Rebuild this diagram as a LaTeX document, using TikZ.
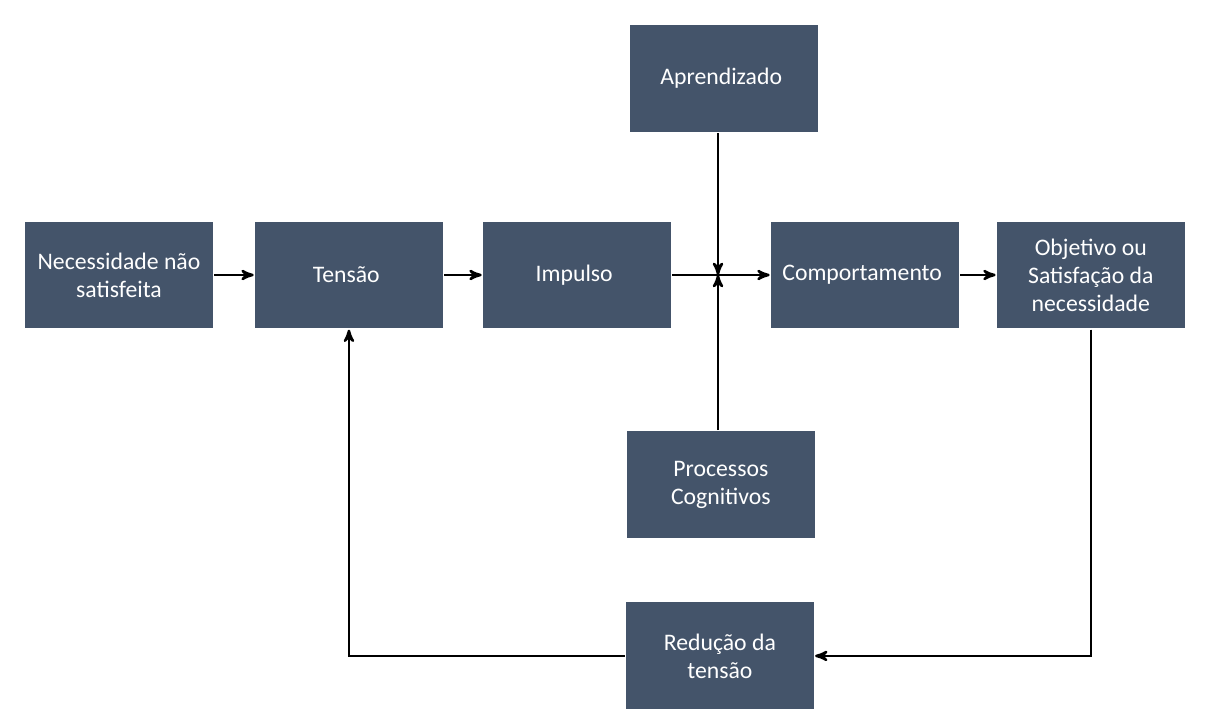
\documentclass[tikz,border=0pt]{standalone}
\usepackage{fontspec}
\setmainfont{Carlito}
\usepackage{tikz}
\usetikzlibrary{arrows}
\usetikzlibrary{positioning}

\definecolor{boxblue}{HTML}{44546A}

\begin{document}
\begin{tikzpicture}[->,>=stealth', x=0.02cm, y=-0.02cm,
    block/.style={rectangle, fill=boxblue, text=white, align=center,
      minimum width=3.76cm, minimum height=2.14cm, inner sep=2pt,
      font=\fontsize{13.5}{16}\selectfont},
    every path/.style={line width=1.4pt}]
    \useasboundingbox (0,0) rectangle (1207,722);

    % MAIN ROW
    \node[block] (NEED) at (119,275)
    {
      Necessidade não\\ satisfeita
    };

    \node[block,
      node distance=4.6cm,
      right of=NEED] (TENSION)
    {
      Tensão
    };

    \node[block,
      node distance=4.56cm,
      right of=TENSION] (IMPULSE)
    {
      Impulso
    };

    \node[block,
      node distance=5.76cm,
      right of=IMPULSE] (BEHAVIOUR)
    {
      Comportamento
    };

    \node[block,
      node distance=4.52cm,
      right of=BEHAVIOUR] (GOAL)
    {
      Objetivo ou\\ Satisfação da\\ necessidade
    };

    % ABOVE AND BELOW
    \node[block,
      node distance=3.93cm,
      above of=IMPULSE,
      xshift=2.94cm] (LEARNING)
    {
      Aprendizado
    };

    \node[block,
      node distance=4.2cm,
      below of=IMPULSE,
      xshift=2.88cm] (COGNITIVE)
    {
      Processos\\ Cognitivos
    };

    \node[block,
      node distance=7.62cm,
      below of=IMPULSE,
      xshift=2.86cm] (REDUCTION)
    {
      Redução da\\ tensão
    };

    \coordinate (MERGE) at (718,275);

    % LINES
    \path
    (NEED) edge (TENSION)
    (TENSION) edge (IMPULSE)
    (IMPULSE) edge (BEHAVIOUR)
    (BEHAVIOUR) edge (GOAL)
    (LEARNING.south -| MERGE) edge (MERGE)
    (COGNITIVE.north -| MERGE) edge (MERGE)
    ;
    \draw (GOAL) |- (REDUCTION);
    \draw (REDUCTION) -| (TENSION);
  \end{tikzpicture}
\end{document}
